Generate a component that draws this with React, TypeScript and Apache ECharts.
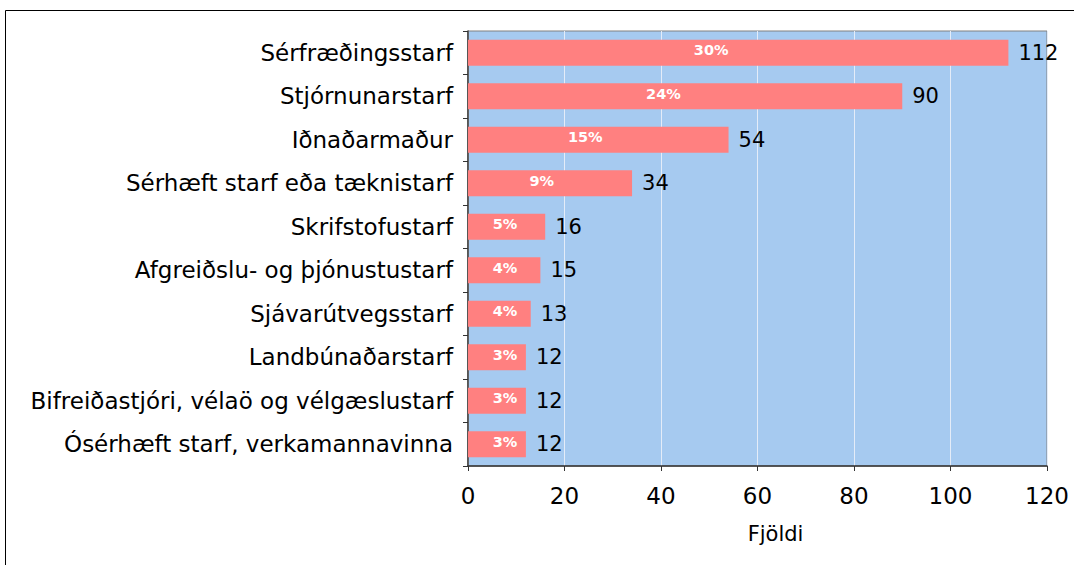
import React, { useEffect, useRef } from "react";
import * as echarts from "echarts";

const categories = [
  "Sérfræðingsstarf",
  "Stjórnunarstarf",
  "Iðnaðarmaður",
  "Sérhæft starf eða tæknistarf",
  "Skrifstofustarf",
  "Afgreiðslu- og þjónustustarf",
  "Sjávarútvegsstarf",
  "Landbúnaðarstarf",
  "Bifreiðastjóri, vélaö og vélgæslustarf",
  "Ósérhæft starf, verkamannavinna",
];
const counts = [112, 90, 54, 34, 16, 15, 13, 12, 12, 12];
const percents = ["30%", "24%", "15%", "9%", "5%", "4%", "4%", "3%", "3%", "3%"];
const xTicks = { min: 0, max: 120, interval: 20 };
const axisName = "Fjöldi";

const FONT = "'DejaVu Sans', Verdana, sans-serif";

export default function App() {
  const ref = useRef<HTMLDivElement>(null);
  useEffect(() => {
    if (!ref.current) return;
    const chart = echarts.init(ref.current, undefined, { renderer: "svg" });
    const pxPerUnit = (1074 - 468 - 27) / (xTicks.max - xTicks.min);
    const pctData = counts.map((v) => {
      const w = v * pxPerUnit;
      const x = Math.max(w * 0.45, 37);
      return { value: v, label: { position: [x, "40%"] } };
    });
    chart.setOption({
      animation: false,
      backgroundColor: "#ffffff",
      graphic: [
        {
          type: "rect",
          shape: { x: 5.5, y: 10.5, width: 1200, height: 700 },
          style: { fill: "none", stroke: "#000000", lineWidth: 1 },
          silent: true,
          z: -1,
        },
      ],
      grid: {
        left: 468,
        right: 27,
        top: 31,
        bottom: 99,
        show: true,
        backgroundColor: "#A6CAF0",
        borderColor: "#808080",
        borderWidth: 1,
      },
      xAxis: {
        type: "value",
        min: xTicks.min,
        max: xTicks.max,
        interval: xTicks.interval,
        name: axisName,
        nameLocation: "middle",
        nameGap: 57,
        nameTextStyle: {
          fontSize: 21,
          color: "#000",
          fontFamily: FONT,
          padding: [0, 0, 0, 36],
        },
        axisLine: { show: true, lineStyle: { color: "#333333", width: 1.5 } },
        axisTick: { show: true, length: 5, lineStyle: { color: "#333333" } },
        axisLabel: { fontSize: 23, color: "#000", fontFamily: FONT, margin: 18 },
        splitLine: { show: true, lineStyle: { color: "#E4ECF8", width: 1 } },
      },
      yAxis: {
        type: "category",
        data: categories,
        inverse: true,
        axisLine: { show: true, lineStyle: { color: "#333333", width: 1.5 } },
        axisTick: { show: true, length: 5, lineStyle: { color: "#333333" } },
        axisLabel: { fontSize: 23, color: "#000", fontFamily: FONT, margin: 15 },
        splitLine: { show: false },
      },
      series: [
        {
          type: "bar",
          data: counts,
          barWidth: 26,
          itemStyle: { color: "#FF8080" },
          label: {
            show: true,
            position: "right",
            distance: 10,
            fontSize: 21,
            color: "#000",
            fontFamily: FONT,
          },
          z: 2,
        },
        {
          type: "bar",
          data: pctData,
          barWidth: 26,
          barGap: "-100%",
          itemStyle: { color: "rgba(0,0,0,0)" },
          label: {
            show: true,
            align: "center",
            verticalAlign: "middle",
            formatter: (p: any) => percents[p.dataIndex],
            fontSize: 14.5,
            fontWeight: "bold",
            color: "#ffffff",
            fontFamily: FONT,
          },
          silent: true,
          z: 3,
        },
      ],
    });
    return () => chart.dispose();
  }, []);
  return (
    <div
      ref={ref}
      style={{ position: "fixed", left: 0, top: 0, width: 1074, height: 565 }}
    />
  );
}
